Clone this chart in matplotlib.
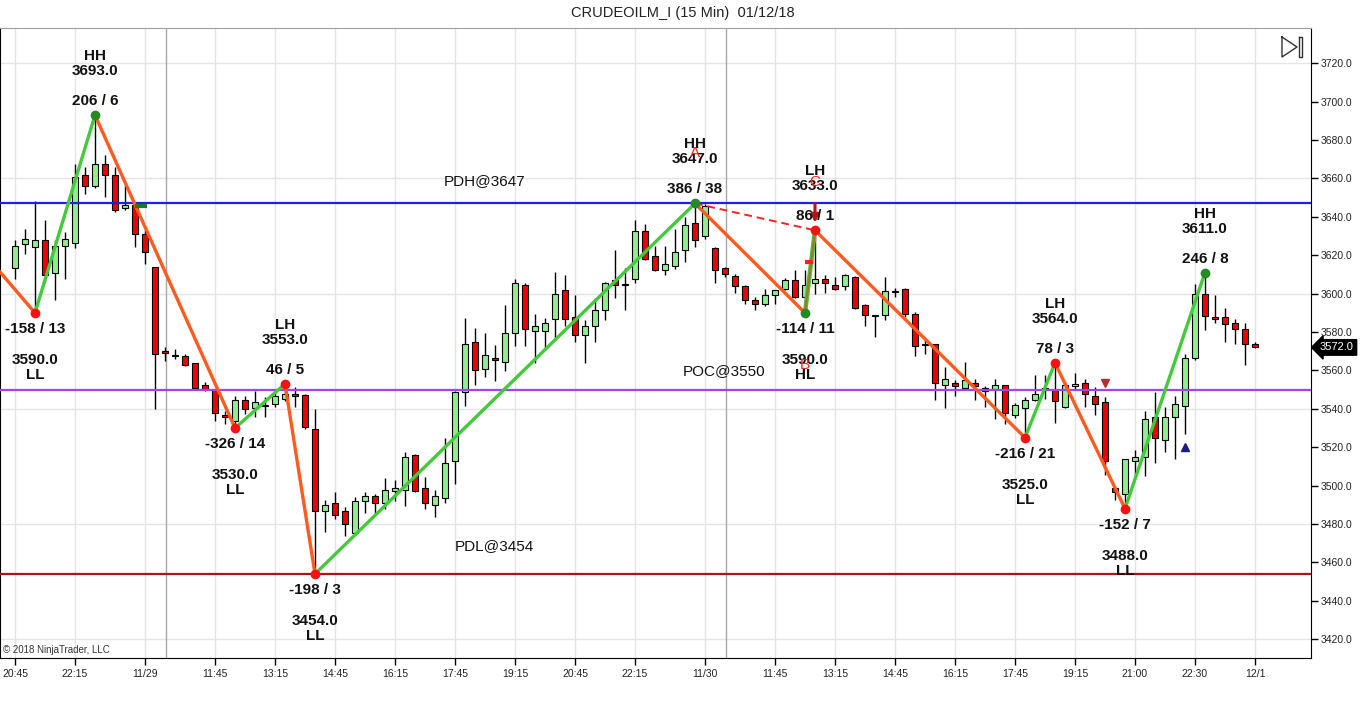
import matplotlib
matplotlib.use("Agg")
import matplotlib.pyplot as plt
import numpy as np

plt.rcParams['font.family'] = ['Liberation Sans', 'DejaVu Sans']

# 15 min bars, OHLC
opens = [3613.5, 3625.7, 3624.3, 3627.8, 3610.9, 3624.7, 3626.4, 3661.6, 3656.0, 3667.8,
         3661.6, 3644.7, 3646.1, 3630.9, 3613.9, 3569.8, 3567.8, 3567.5, 3563.8, 3552.2,
         3549.9, 3536.9, 3533.9, 3544.7, 3540.5, 3541.5, 3542.6, 3545.2, 3547.8, 3547.0,
         3529.6, 3486.6, 3491.0, 3486.8, 3475.3, 3492.2, 3494.4, 3491.0, 3497.4, 3497.7,
         3516.0, 3498.6, 3489.9, 3493.7, 3513.0, 3548.9, 3575.0, 3560.9, 3566.6, 3564.3,
         3579.6, 3604.7, 3580.5, 3580.5, 3586.9, 3601.7, 3587.8, 3578.6, 3582.9, 3591.6,
         3606.9, 3604.8, 3607.8, 3632.7, 3619.6, 3612.5, 3614.4, 3622.9, 3636.7, 3629.8,
         3624.0, 3613.6, 3609.1, 3603.8, 3596.9, 3594.8, 3599.1, 3602.6, 3607.0, 3598.3,
         3605.8, 3607.8, 3604.7, 3603.8, 3608.7, 3594.3, 3588.6, 3588.7, 3600.8, 3602.6,
         3589.6, 3573.0, 3573.9, 3552.5, 3553.6, 3551.0, 3553.6, 3551.0, 3550.5, 3552.5,
         3536.9, 3540.5, 3544.7, 3549.6, 3549.6, 3540.9, 3551.9, 3553.6, 3546.9, 3543.8,
         3498.8, 3495.6, 3512.7, 3514.8, 3536.0, 3523.8, 3536.0, 3541.7, 3566.6, 3600.0,
         3587.2, 3587.8, 3584.7, 3581.7, 3573.9]
highs = [3627.8, 3633.9, 3648.2, 3638.2, 3627.8, 3632.2, 3667.8, 3666.1, 3693.0, 3672.2,
         3666.1, 3656.5, 3647.0, 3633.0, 3614.0, 3572.2, 3571.3, 3568.7, 3564.0, 3553.9,
         3550.4, 3539.1, 3546.9, 3546.9, 3549.5, 3546.0, 3549.5, 3553.0, 3551.3, 3547.5,
         3540.0, 3492.5, 3496.9, 3489.0, 3493.9, 3496.9, 3495.7, 3504.0, 3503.1, 3517.4,
         3516.5, 3504.7, 3497.7, 3524.9, 3549.5, 3587.2, 3582.0, 3579.6, 3573.0, 3593.9,
         3607.8, 3605.7, 3589.6, 3587.3, 3611.3, 3609.9, 3599.1, 3586.1, 3597.9, 3606.0,
         3622.9, 3613.6, 3638.6, 3636.5, 3624.7, 3624.7, 3633.9, 3640.0, 3647.0, 3646.5,
         3624.2, 3613.8, 3610.5, 3604.4, 3598.3, 3602.6, 3602.0, 3608.4, 3612.5, 3612.5,
         3633.0, 3609.6, 3608.7, 3610.0, 3609.0, 3594.8, 3588.8, 3608.7, 3603.0, 3603.0,
         3590.5, 3575.7, 3574.0, 3561.8, 3554.8, 3564.4, 3555.7, 3551.7, 3555.7, 3552.6,
         3543.0, 3546.0, 3557.8, 3557.8, 3564.0, 3554.0, 3558.8, 3555.6, 3551.3, 3546.0,
         3499.0, 3514.0, 3518.8, 3539.1, 3549.0, 3541.2, 3546.9, 3568.7, 3605.2, 3611.0,
         3599.1, 3592.7, 3586.9, 3584.7, 3574.8]
lows = [3607.8, 3620.9, 3590.0, 3606.0, 3596.5, 3607.8, 3624.0, 3651.7, 3655.0, 3650.4,
        3642.6, 3643.5, 3624.3, 3615.6, 3540.0, 3564.7, 3566.0, 3562.5, 3550.5, 3549.5,
        3533.9, 3532.0, 3530.0, 3537.4, 3536.0, 3535.6, 3540.8, 3544.0, 3540.8, 3529.6,
        3454.0, 3475.7, 3482.6, 3473.9, 3475.0, 3485.7, 3485.7, 3487.8, 3491.8, 3489.6,
        3496.5, 3487.8, 3483.5, 3490.8, 3500.9, 3541.3, 3552.2, 3556.5, 3554.4, 3559.6,
        3572.7, 3572.7, 3564.0, 3571.3, 3576.5, 3583.0, 3574.8, 3564.0, 3574.8, 3586.1,
        3597.9, 3591.6, 3605.6, 3617.4, 3612.0, 3609.6, 3613.0, 3616.5, 3624.4, 3628.7,
        3605.7, 3608.7, 3600.5, 3594.8, 3591.7, 3593.4, 3594.8, 3601.8, 3597.9, 3590.0,
        3600.0, 3600.4, 3601.8, 3601.8, 3592.0, 3583.0, 3577.4, 3586.1, 3598.3, 3587.8,
        3567.5, 3568.7, 3544.7, 3540.5, 3546.5, 3550.0, 3544.7, 3541.2, 3534.8, 3531.9,
        3535.0, 3525.0, 3544.0, 3545.2, 3532.7, 3540.5, 3549.6, 3540.9, 3537.0, 3505.7,
        3492.6, 3488.0, 3504.6, 3505.2, 3511.6, 3517.4, 3513.9, 3526.9, 3565.6, 3580.9,
        3584.7, 3574.8, 3574.0, 3562.6, 3571.8]
closes = [3624.7, 3628.7, 3627.8, 3609.9, 3624.7, 3628.7, 3660.9, 3656.0, 3667.8, 3661.6,
          3643.8, 3646.1, 3630.9, 3621.7, 3568.7, 3569.3, 3567.3, 3562.9, 3550.9, 3550.4,
          3537.9, 3535.6, 3544.7, 3540.0, 3543.5, 3542.0, 3546.9, 3547.8, 3546.6, 3530.4,
          3487.0, 3489.9, 3484.9, 3480.0, 3492.2, 3494.4, 3491.0, 3497.7, 3498.6, 3514.8,
          3497.4, 3491.0, 3494.4, 3512.0, 3548.9, 3573.9, 3560.0, 3567.8, 3565.6, 3579.6,
          3605.7, 3581.7, 3582.9, 3584.9, 3600.0, 3586.9, 3578.6, 3582.9, 3591.6, 3605.7,
          3604.7, 3604.5, 3632.7, 3618.2, 3612.5, 3615.6, 3621.7, 3636.0, 3627.7, 3645.5,
          3612.5, 3610.1, 3603.8, 3596.9, 3594.8, 3599.1, 3601.8, 3607.0, 3598.3, 3604.4,
          3607.8, 3605.8, 3602.6, 3609.9, 3592.7, 3588.7, 3588.2, 3601.4, 3601.2, 3589.6,
          3572.7, 3574.0, 3553.6, 3555.7, 3551.9, 3554.8, 3551.9, 3549.2, 3552.5, 3537.9,
          3541.8, 3544.7, 3547.9, 3551.0, 3543.9, 3552.5, 3553.1, 3547.8, 3542.6, 3513.0,
          3496.5, 3513.9, 3514.8, 3534.8, 3524.9, 3536.0, 3542.6, 3566.6, 3600.0, 3588.2,
          3587.0, 3584.0, 3581.7, 3573.9, 3572.0]

tick_pos = [0, 6, 13, 20, 26, 32, 38, 44, 50, 56, 62, 69, 76, 82, 88, 94, 100, 106, 112, 118, 124]
tick_lab = ['20:45', '22:15', '11/29', '11:45', '13:15', '14:45', '16:15', '17:45', '19:15',
            '20:45', '22:15', '11/30', '11:45', '13:15', '14:45', '16:15', '17:45', '19:15',
            '21:00', '22:30', '12/1']
session_breaks = [15.1, 71.1]

# zigzag swings
swing_idx = [2, 8, 22, 27, 30, 68, 79, 80, 101, 104, 111, 119]
swing_px = [3590, 3693, 3530, 3553, 3454, 3647, 3590, 3633, 3525, 3564, 3488, 3611]
swing_kind = ['LL', 'HH', 'LL', 'LH', 'LL', 'HH', 'HL', 'LH', 'LL', 'LH', 'LL', 'HH']
swing_stats = ['-158 / 13', '206 / 6', '-326 / 14', '46 / 5', '-198 / 3', '386 / 38',
               '-114 / 11', '86 / 1', '-216 / 21', '78 / 3', '-152 / 7', '246 / 8']
zz_start = (-4, 3626.5)   # leg coming in from off screen

levels = [3647, 3550, 3454]
level_names = ['PDH@3647', 'POC@3550', 'PDL@3454']
level_colors = ['#1f1fe6', '#a044ee', '#a8141c']
level_text_x = [42.9, 66.8, 44.0]
level_text_dy = [22, 19, 28]

last_price = 3572.0

W, H = 1366, 703
fig = plt.figure(figsize=(W / 100, H / 100), dpi=100)
fig.patch.set_facecolor('white')
ax_l, ax_r, ax_t, ax_b = 0, 1311, 28, 658
ax = fig.add_axes([ax_l / W, (H - ax_b) / H, (ax_r - ax_l) / W, (ax_b - ax_t) / H])

x = np.arange(len(opens))
o = np.array(opens); c = np.array(closes)
up = c >= o
body_lo = np.minimum(o, c)
body_h = np.maximum(np.abs(c - o), 0.6)
cols = np.where(up, '#90ee90', '#ee0000')

# grid
for p in range(3420, 3721, 60):
    ax.axhline(p, color='#e4e4e4', lw=1, zorder=0)
for t in tick_pos:
    ax.axvline(t, color='#e4e4e4', lw=1, zorder=0)
for b in session_breaks:
    ax.axvline(b, color='#a8a8a8', lw=1, zorder=0)

ax.vlines(x, lows, highs, color='black', lw=1, zorder=2)
ax.bar(x, body_h, bottom=body_lo, width=0.68, color=cols, edgecolor='black', linewidth=0.8, zorder=3)

# day levels
for lv, nm, col, tx, dy in zip(levels, level_names, level_colors, level_text_x, level_text_dy):
    ax.axhline(lv, color=col, lw=1.6, zorder=4)
    ax.annotate(nm, (tx, lv), xytext=(0, dy), textcoords='offset pixels', ha='left', va='center',
                fontsize=11, color='#111111')

# zigzag legs
pts = [zz_start] + list(zip(swing_idx, swing_px))
for (x0, y0), (x1, y1) in zip(pts[:-1], pts[1:]):
    if x0 == 79 and x1 == 80:
        ax.plot([x0, x1], [y0, y1], color='#44c83c', lw=3.2, zorder=5, solid_capstyle='round')
        ax.plot([x0, x1], [y0, y1], color='#a0782c', lw=1.6, zorder=5)
    else:
        col = '#44c83c' if y1 > y0 else '#ff5a1f'
        ax.plot([x0, x1], [y0, y1], color=col, lw=2.4, zorder=5, solid_capstyle='round')
ax.plot([68, 80], [3647, 3633], color='#ff2020', lw=1.4, ls=(0, (4, 2.5)), zorder=5)

for i, p, k, s in zip(swing_idx, swing_px, swing_kind, swing_stats):
    dot = '#228b22' if k in ('HH', 'HL') else '#ff1010'
    ax.plot(i, p, 'o', ms=6, color=dot, zorder=7)
    if k in ('HH', 'LH'):
        offs = [(s, 14), ('%.1f' % p, 44), (k, 59)]
    else:
        offs = [(s, -16), ('%.1f' % p, -47), (k, -62)]
    for txt, dy in offs:
        ax.annotate(txt, (i, p), xytext=(0, dy), textcoords='offset pixels', ha='center',
                    va='center', fontsize=11, fontweight='bold', color='#111111', zorder=8)

# small markers from the indicators
ax.hlines(3645.5, 12.0, 13.2, color='#1e7a1e', lw=3, zorder=6)
ax.hlines(3616.5, 79.0, 79.8, color='#ff2020', lw=3, zorder=6)
ax.annotate('', xy=(80, 3635.5), xytext=(80, 3648.5),
            arrowprops=dict(arrowstyle='-|>', color='#b01818', lw=2.2, mutation_scale=11), zorder=6)
ax.plot(109, 3553.5, 'v', ms=6, color='#b03030', zorder=6)
ax.plot(117, 3520.3, '^', ms=6, color='#1a1a8a', zorder=6)
for letter, lx, ly in [('A', 68, 3673.2), ('C', 80, 3658.3), ('B', 79, 3562.8)]:
    ax.text(lx, ly, letter, ha='center', va='center', fontsize=11, color='#ff2020', zorder=9)

ax.set_xlim(-1.5, 129.6)
ax.set_ylim(3410.2, 3738.4)

ax.yaxis.tick_right()
ax.set_yticks(range(3420, 3721, 20))
ax.set_yticklabels(['%.1f' % v for v in range(3420, 3721, 20)], fontsize=7.5, color='#222222')
ax.set_xticks(tick_pos)
ax.set_xticklabels(tick_lab, fontsize=7.5, color='#222222')
ax.tick_params(axis='both', length=5, width=1, color='black', pad=3)
ax.tick_params(axis='y', pad=2)
ax.tick_params(axis='y', which='both', left=False)
for sp in ('bottom', 'right', 'left'):
    ax.spines[sp].set_color('black')
ax.spines['top'].set_color('#a0a0a0')

# last price tag
ax.annotate('%.1f' % last_price, (1, last_price), xycoords=('axes fraction', 'data'),
            xytext=(9, 0), textcoords='offset pixels', ha='left', va='center',
            fontsize=8, color='white',
            bbox=dict(boxstyle='larrow,pad=0.25', fc='black', ec='black'), annotation_clip=False)

# "scroll to end" icon top right
def fx(px):
    return px / (ax_r - ax_l)
def fy(py):
    return (ax_b - py) / (ax_b - ax_t)
ax.plot([fx(1282), fx(1297), fx(1282), fx(1282)], [fy(37), fy(47), fy(57), fy(37)],
        color='#333333', lw=1.0, transform=ax.transAxes, zorder=9)
ax.plot([fx(1299), fx(1302), fx(1302), fx(1299), fx(1299)],
        [fy(37), fy(37), fy(57), fy(57), fy(37)], color='#333333', lw=1.0,
        transform=ax.transAxes, zorder=9)

ax.text(3 / (ax_r - ax_l), fy(650), '\u00a9 2018 NinjaTrader, LLC', transform=ax.transAxes,
        ha='left', va='center', fontsize=7, color='#333333')
fig.text(0.5, 1 - 13 / H, 'CRUDEOILM_I (15 Min)  01/12/18', ha='center', va='center',
         fontsize=10.5, color='#222222')

fig.savefig('out.png', dpi=100)
